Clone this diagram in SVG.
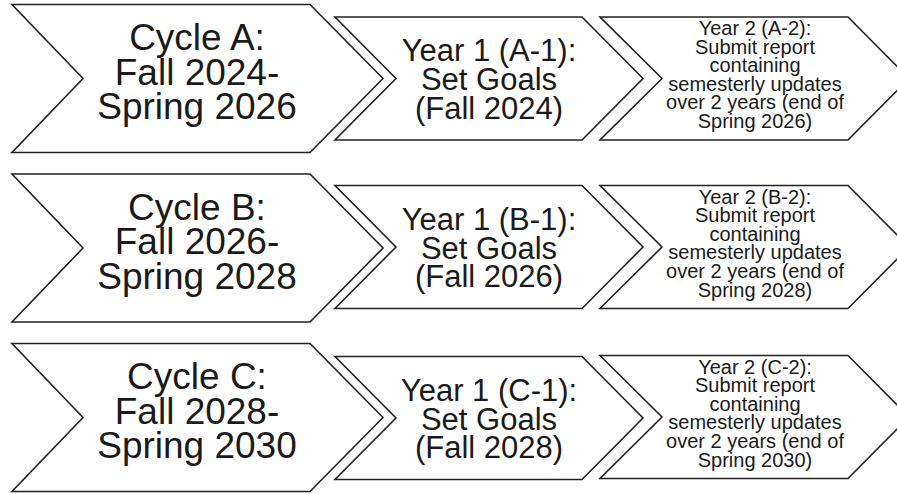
<svg xmlns="http://www.w3.org/2000/svg" xmlns:xlink="http://www.w3.org/1999/xlink" width="897" height="494" viewBox="0 0 897 494">
  <style>
    .shape { fill: #ffffff; stroke: #222222; stroke-width: 1.6; stroke-linejoin: miter; }
    text { font-family: "Liberation Sans", Arial, Helvetica, sans-serif; fill: #1a1a1a; text-anchor: middle; }
    .big { font-size: 37px; }
    .mid { font-size: 31px; }
    .small { font-size: 20px; }
  </style>
  <defs>
    <!-- chevron outlines, drawn around a vertical centre of y = 0 -->
    <polygon id="chev-cycle" points="12,-74 310,-74 383,0 310,74 12,74 83,0"/>
    <polygon id="chev-year1" points="335,-61.5 582,-61.5 643,0 582,61.5 335,61.5 396,0"/>
    <polygon id="chev-year2" points="600,-61.5 848,-61.5 909,0 848,61.5 600,61.5 662,0"/>
  </defs>
  <rect width="897" height="494" fill="#ffffff"/>

  <g id="connectors"/>

  <!-- Row A -->
  <g id="cycle-a" transform="translate(0,78.5)">
    <use xlink:href="#chev-cycle" class="shape"/>
    <text class="big" x="197" y="-28.5">Cycle A:</text>
    <text class="big" x="197" y="6">Fall 2024-</text>
    <text class="big" x="197" y="40.5">Spring 2026</text>
  </g>
  <g id="year1-a" transform="translate(0,78.5)">
    <use xlink:href="#chev-year1" class="shape"/>
    <text class="mid" x="489" y="-17.5">Year 1 (A-1):</text>
    <text class="mid" x="489" y="11.5">Set Goals</text>
    <text class="mid" x="489" y="40">(Fall 2024)</text>
  </g>
  <g id="year2-a" transform="translate(0,78.5)">
    <use xlink:href="#chev-year2" class="shape"/>
    <text class="small" x="755" y="-43.5">Year 2 (A-2):</text>
    <text class="small" x="755" y="-24.9">Submit report</text>
    <text class="small" x="755" y="-6.3">containing</text>
    <text class="small" x="755" y="12.3">semesterly updates</text>
    <text class="small" x="755" y="30.9">over 2 years (end of</text>
    <text class="small" x="755" y="49.5">Spring 2026)</text>
  </g>

  <!-- Row B -->
  <g id="cycle-b" transform="translate(0,248)">
    <use xlink:href="#chev-cycle" class="shape"/>
    <text class="big" x="197" y="-28.5">Cycle B:</text>
    <text class="big" x="197" y="6">Fall 2026-</text>
    <text class="big" x="197" y="40.5">Spring 2028</text>
  </g>
  <g id="year1-b" transform="translate(0,247)">
    <use xlink:href="#chev-year1" class="shape"/>
    <text class="mid" x="489" y="-17.5">Year 1 (B-1):</text>
    <text class="mid" x="489" y="11.5">Set Goals</text>
    <text class="mid" x="489" y="40">(Fall 2026)</text>
  </g>
  <g id="year2-b" transform="translate(0,247)">
    <use xlink:href="#chev-year2" class="shape"/>
    <text class="small" x="755" y="-43.5">Year 2 (B-2):</text>
    <text class="small" x="755" y="-24.9">Submit report</text>
    <text class="small" x="755" y="-6.3">containing</text>
    <text class="small" x="755" y="12.3">semesterly updates</text>
    <text class="small" x="755" y="30.9">over 2 years (end of</text>
    <text class="small" x="755" y="49.5">Spring 2028)</text>
  </g>

  <!-- Row C -->
  <g id="cycle-c" transform="translate(0,417.5)">
    <use xlink:href="#chev-cycle" class="shape"/>
    <text class="big" x="197" y="-28.5">Cycle C:</text>
    <text class="big" x="197" y="6">Fall 2028-</text>
    <text class="big" x="197" y="40.5">Spring 2030</text>
  </g>
  <g id="year1-c" transform="translate(0,418)">
    <use xlink:href="#chev-year1" class="shape"/>
    <text class="mid" x="489" y="-17.5">Year 1 (C-1):</text>
    <text class="mid" x="489" y="11.5">Set Goals</text>
    <text class="mid" x="489" y="40">(Fall 2028)</text>
  </g>
  <g id="year2-c" transform="translate(0,417)">
    <use xlink:href="#chev-year2" class="shape"/>
    <text class="small" x="755" y="-43.5">Year 2 (C-2):</text>
    <text class="small" x="755" y="-24.9">Submit report</text>
    <text class="small" x="755" y="-6.3">containing</text>
    <text class="small" x="755" y="12.3">semesterly updates</text>
    <text class="small" x="755" y="30.9">over 2 years (end of</text>
    <text class="small" x="755" y="49.5">Spring 2030)</text>
  </g>
</svg>
